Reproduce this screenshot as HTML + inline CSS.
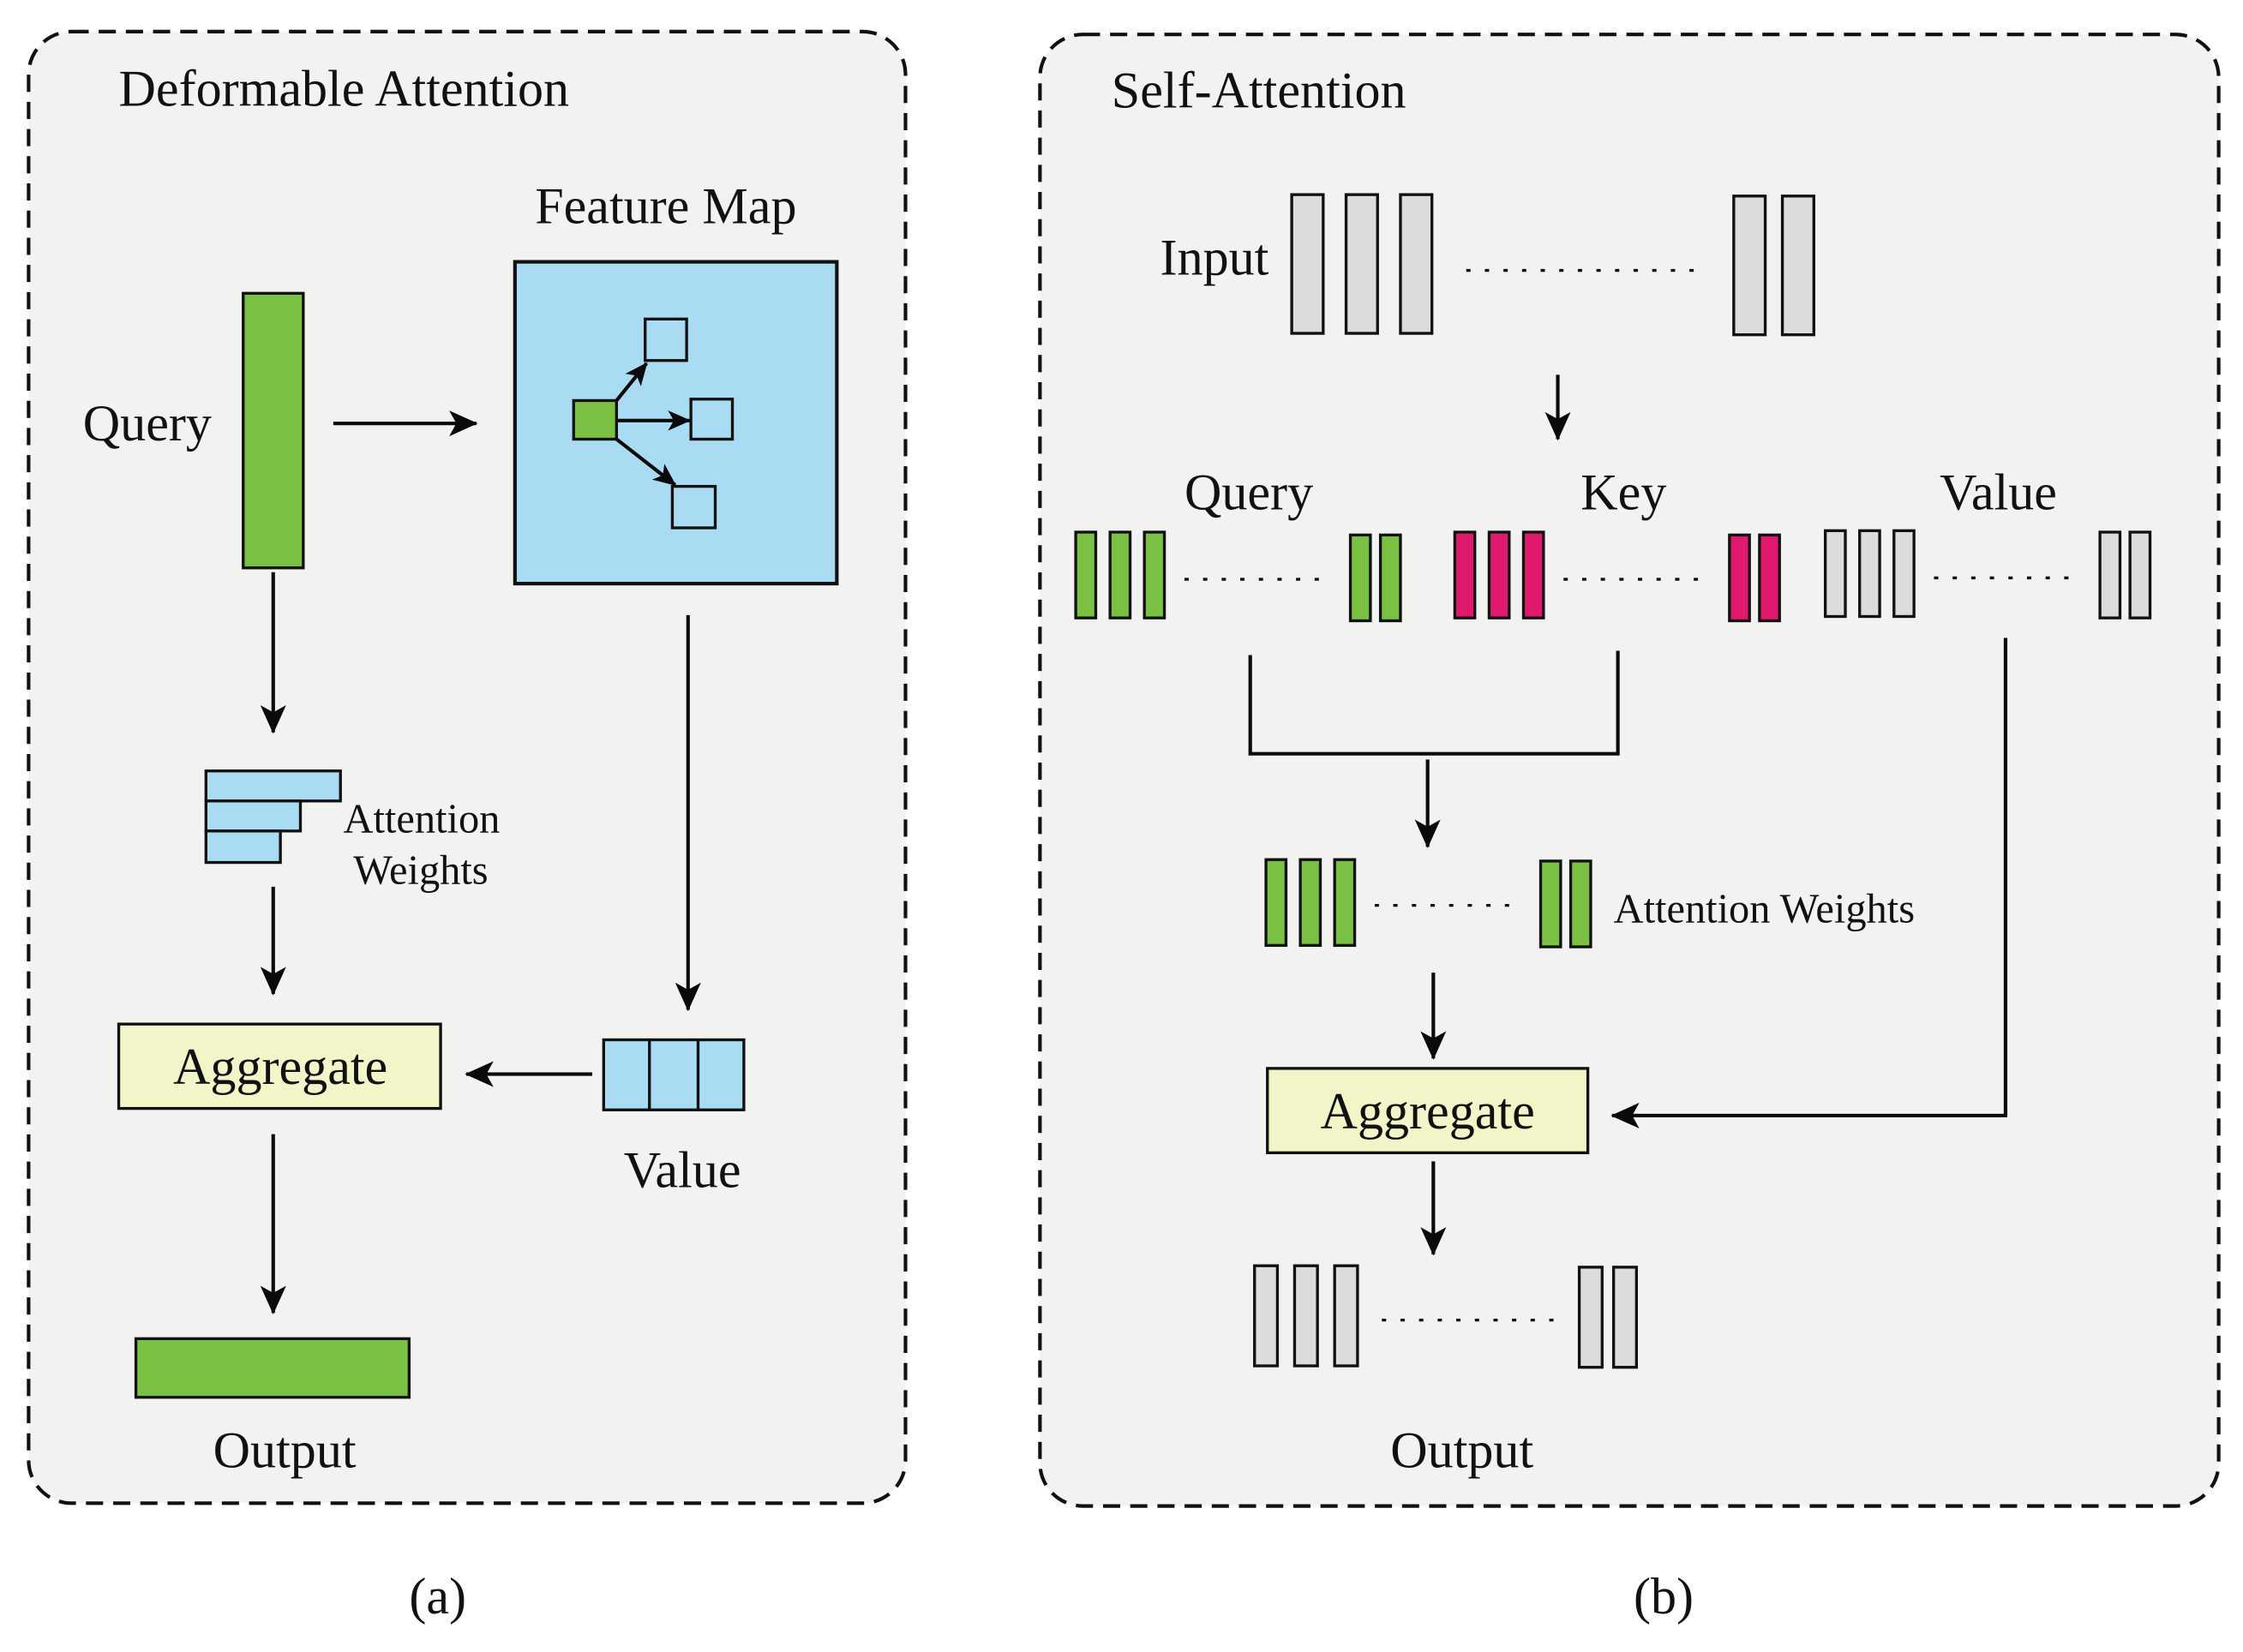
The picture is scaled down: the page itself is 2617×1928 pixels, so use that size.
<!DOCTYPE html>
<html><head><style>html,body{margin:0;padding:0;background:#fff}svg{display:block}</style></head>
<body>
<svg width="2617" height="1928" viewBox="0 0 1568 1155" xmlns="http://www.w3.org/2000/svg" font-family="'Liberation Serif', serif" fill="#111">
<defs>
<marker id="ah" markerWidth="16" markerHeight="14" refX="15" refY="7" orient="auto" markerUnits="userSpaceOnUse" viewBox="0 0 16 14">
<path d="M0,0 L16,7 L0,14 L4,7 Z" fill="#0a0a0a"/>
</marker>
<marker id="ahb" markerWidth="20" markerHeight="18" refX="19" refY="9" orient="auto" markerUnits="userSpaceOnUse" viewBox="0 0 20 18">
<path d="M0,0 L20,9 L0,18 L5,9 Z" fill="#0a0a0a"/>
</marker>
</defs>
<rect width="1568" height="1155" fill="#fff"/>
<rect x="20" y="22" width="613" height="1029" rx="30" fill="#f2f2f0" stroke="#111" stroke-width="2.5" stroke-dasharray="12,7"/>
<rect x="727" y="24" width="824" height="1029" rx="30" fill="#f2f2f0" stroke="#111" stroke-width="2.5" stroke-dasharray="12,7"/>

<g stroke="#0a0a0a" stroke-width="2.5" fill="none">
<line x1="233" y1="296" x2="333" y2="296" marker-end="url(#ahb)"/>
<line x1="191" y1="400" x2="191" y2="512" marker-end="url(#ahb)"/>
<line x1="191" y1="620" x2="191" y2="695" marker-end="url(#ahb)"/>
<line x1="414" y1="751" x2="326" y2="751" marker-end="url(#ahb)"/>
<line x1="481" y1="430" x2="481" y2="706" marker-end="url(#ahb)"/>
<line x1="191" y1="793" x2="191" y2="918" marker-end="url(#ahb)"/>
<line x1="1089" y1="262" x2="1089" y2="307" marker-end="url(#ahb)"/>
<polyline points="874,458 874,527 1131,527 1131,455"/>
<line x1="998" y1="531" x2="998" y2="592" marker-end="url(#ahb)"/>
<line x1="1002" y1="680" x2="1002" y2="740" marker-end="url(#ahb)"/>
<polyline points="1402,446 1402,780 1127,780" marker-end="url(#ahb)"/>
<line x1="1002" y1="812" x2="1002" y2="877" marker-end="url(#ahb)"/>
</g>

<rect x="170" y="205" width="42" height="192" fill="#7ac143" stroke="#111" stroke-width="2"/>
<rect x="360" y="183" width="225" height="225" fill="#a9dbf3" stroke="#111" stroke-width="2.5"/>
<g stroke="#111" stroke-width="2" fill="#a9dbf3">
<rect x="451" y="223" width="29" height="29"/>
<rect x="483" y="279" width="29" height="28"/>
<rect x="470" y="340" width="30" height="29"/>
</g>
<rect x="401" y="280" width="30" height="27" fill="#7ac143" stroke="#111" stroke-width="2"/>
<g stroke="#0a0a0a" stroke-width="2.5">
<line x1="431" y1="280" x2="452" y2="254" marker-end="url(#ah)"/>
<line x1="431" y1="294" x2="482" y2="294" marker-end="url(#ah)"/>
<line x1="431" y1="307" x2="472" y2="339" marker-end="url(#ah)"/>
</g>
<g fill="#a9dbf3" stroke="#111" stroke-width="2">
<rect x="144" y="539" width="94" height="21"/>
<rect x="144" y="560" width="66" height="21"/>
<rect x="144" y="581" width="52" height="22"/>
<rect x="422" y="727" width="98" height="49"/>
</g>
<g stroke="#111" stroke-width="2"><line x1="454" y1="727" x2="454" y2="776"/><line x1="488" y1="727" x2="488" y2="776"/></g>
<rect x="83" y="716" width="225" height="59" fill="#f2f5c8" stroke="#111" stroke-width="2"/>
<rect x="95" y="936" width="191" height="41" fill="#7ac143" stroke="#111" stroke-width="2"/>
<rect x="886" y="747" width="224" height="59" fill="#f2f5c8" stroke="#111" stroke-width="2"/>

<g font-size="36">
<text x="83" y="74">Deformable Attention</text>
<text x="374" y="156">Feature Map</text>
<text x="58" y="308">Query</text>
<text x="196" y="758" text-anchor="middle">Aggregate</text>
<text x="477" y="830" text-anchor="middle">Value</text>
<text x="199" y="1026" text-anchor="middle">Output</text>
<text x="306" y="1128" text-anchor="middle">(a)</text>
<text x="1163" y="1128" text-anchor="middle">(b)</text>
<text x="777" y="75">Self-Attention</text>
<text x="811" y="192">Input</text>
<text x="873" y="356" text-anchor="middle">Query</text>
<text x="1135" y="356" text-anchor="middle">Key</text>
<text x="1397" y="356" text-anchor="middle">Value</text>
<text x="998" y="789" text-anchor="middle">Aggregate</text>
<text x="1022" y="1026" text-anchor="middle">Output</text>
</g>
<g font-size="29">
<text x="240" y="582">Attention</text>
<text x="247" y="618">Weights</text>
<text x="1128" y="645">Attention Weights</text>
</g>

<g fill="#dcdcdc" stroke="#111" stroke-width="2">
<rect x="903" y="136" width="22" height="97"/><rect x="941" y="136" width="22" height="97"/><rect x="979" y="136" width="22" height="97"/>
<rect x="1212" y="137" width="22" height="97"/><rect x="1246" y="137" width="22" height="97"/>
<rect x="1276" y="371" width="14" height="60"/><rect x="1300" y="371" width="14" height="60"/><rect x="1324" y="371" width="14" height="60"/>
<rect x="1468" y="372" width="14" height="60"/><rect x="1489" y="372" width="14" height="60"/>
<rect x="877" y="885" width="16" height="70"/><rect x="905" y="885" width="16" height="70"/><rect x="933" y="885" width="16" height="70"/>
<rect x="1104" y="886" width="16" height="70"/><rect x="1128" y="886" width="16" height="70"/>
</g>
<g fill="#7ac143" stroke="#111" stroke-width="2">
<rect x="752" y="372" width="14" height="60"/><rect x="776" y="372" width="14" height="60"/><rect x="800" y="372" width="14" height="60"/>
<rect x="944" y="374" width="14" height="60"/><rect x="965" y="374" width="14" height="60"/>
<rect x="885" y="601" width="14" height="60"/><rect x="909" y="601" width="14" height="60"/><rect x="933" y="601" width="14" height="60"/>
<rect x="1077" y="602" width="14" height="60"/><rect x="1098" y="602" width="14" height="60"/>
</g>
<g fill="#e0196e" stroke="#111" stroke-width="2">
<rect x="1017" y="372" width="14" height="60"/><rect x="1041" y="372" width="14" height="60"/><rect x="1065" y="372" width="14" height="60"/>
<rect x="1209" y="374" width="14" height="60"/><rect x="1230" y="374" width="14" height="60"/>
</g>
<g stroke="#111" stroke-width="2" stroke-dasharray="3,10">
<line x1="1025" y1="189" x2="1190" y2="189"/>
<line x1="828" y1="405" x2="932" y2="405"/>
<line x1="1093" y1="405" x2="1197" y2="405"/>
<line x1="1352" y1="404" x2="1455" y2="404"/>
<line x1="961" y1="633" x2="1063" y2="633"/>
<line x1="966" y1="923" x2="1088" y2="923"/>
</g>
</svg>
</body></html>
